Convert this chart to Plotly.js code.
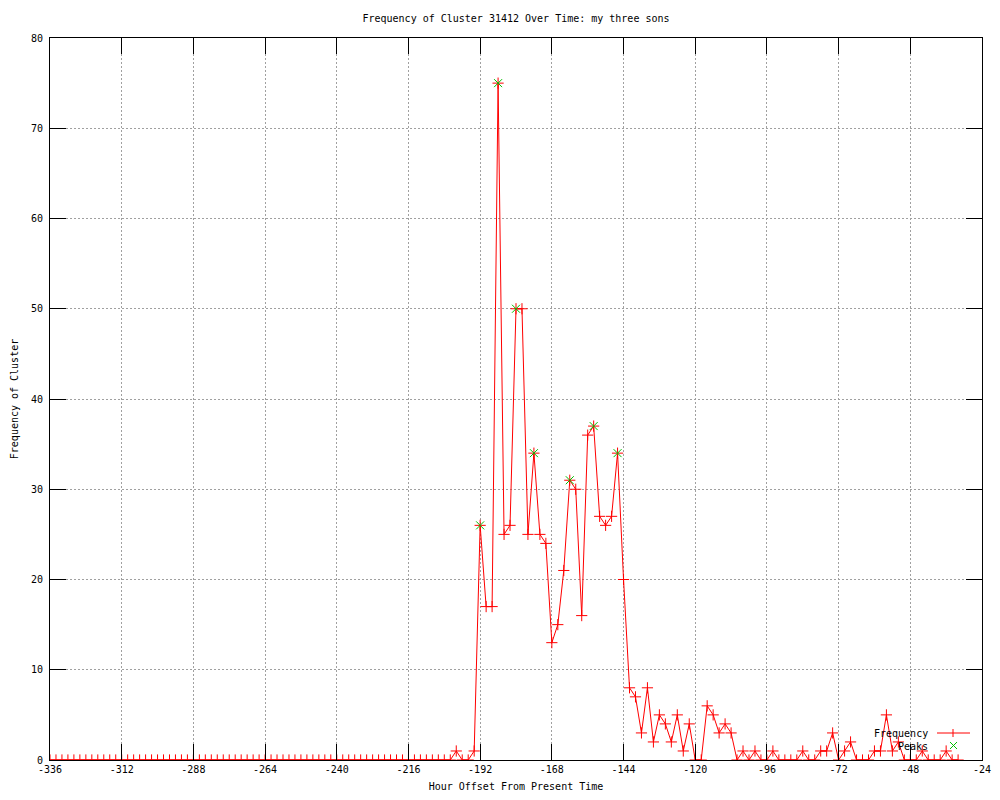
<!DOCTYPE html>
<html>
<head>
<meta charset="utf-8">
<script src="https://cdn.plot.ly/plotly-3.0.1.min.js"></script>
<style>
  html, body { margin: 0; padding: 0; background: #ffffff; }
  #chart { width: 1000px; height: 800px; }
</style>
</head>
<body>
<div id="chart"></div>
<script>
// Hour offsets (x) of each sample
const hours = [
  -336,-334,-332,-330,-328,-326,-324,-322,-320,-318,
  -316,-314,-312,-310,-308,-306,-304,-302,-300,-298,
  -296,-294,-292,-290,-288,-286,-284,-282,-280,-278,
  -276,-274,-272,-270,-268,-266,-264,-262,-260,-258,
  -256,-254,-252,-250,-248,-246,-244,-242,-240,-238,
  -236,-234,-232,-230,-228,-226,-224,-222,-220,-218,
  -216,-214,-212,-210,-208,-206,-204,-202,-200,-198,
  -196,-194,-192,-190,-188,-186,-184,-182,-180,-178,
  -176,-174,-172,-170,-168,-166,-164,-162,-160,-158,
  -156,-154,-152,-150,-148,-146,-144,-142,-140,-138,
  -136,-134,-132,-130,-128,-126,-124,-122,-120,-118,
  -116,-114,-112,-110,-108,-106,-104,-102,-100,-98,
  -96,-94,-92,-90,-88,-86,-84,-82,-80,-78,
  -76,-74,-72,-70,-68,-66,-64,-62,-60,-58,
  -56,-54,-52,-50,-48,-46,-44,-42,-40,-38,
  -36,-34,-32
];
// Frequency of the cluster at each hour
const frequency = [
  0,0,0,0,0,0,0,0,0,0,
  0,0,0,0,0,0,0,0,0,0,
  0,0,0,0,0,0,0,0,0,0,
  0,0,0,0,0,0,0,0,0,0,
  0,0,0,0,0,0,0,0,0,0,
  0,0,0,0,0,0,0,0,0,0,
  0,0,0,0,0,0,0,0,1,0,
  0,1,26,17,17,75,25,26,50,50,
  25,34,25,24,13,15,21,31,30,16,
  36,37,27,26,27,34,20,8,7,3,
  8,2,5,4,2,5,1,4,0,0,
  6,5,3,4,3,0,1,0,1,0,
  0,1,0,0,0,0,1,0,0,1,
  1,3,0,1,2,0,0,0,1,1,
  5,1,2,0,0,0,1,0,0,0,
  1,0,0
];
// Detected peaks
const peakHours  = [-192, -186, -180, -174, -162, -154, -146];
const peakValues = [26, 75, 50, 34, 31, 37, 34];

const xTicks = [-336,-312,-288,-264,-240,-216,-192,-168,-144,-120,-96,-72,-48,-24];
const yTicks = [0,10,20,30,40,50,60,70,80];

const FONT = "'DejaVu Sans Mono', 'Liberation Mono', monospace";
const RED = '#ff0000';
const GREEN = '#00c000';

const traces = [
  {
    x: hours, y: frequency, name: 'Frequency',
    type: 'scatter', mode: 'lines+markers',
    line: {color: RED, width: 1},
    marker: {symbol: 'cross-thin-open', size: 8, color: RED, line: {color: RED, width: 1}},
    showlegend: false
  },
  {
    x: peakHours, y: peakValues, name: 'Peaks',
    type: 'scatter', mode: 'markers',
    marker: {symbol: 'x-thin-open', size: 8, color: GREEN, line: {color: GREEN, width: 1}},
    showlegend: false
  }
];

// plot area pixels for legend placement
const L = 50, R = 982, T = 38, B = 760;
const px = v => (v - L) / (R - L);
const py = v => (B - v) / (B - T);

const legendShapes = [
  {type: 'line', xref: 'paper', yref: 'paper', x0: px(937), x1: px(970), y0: py(733), y1: py(733), line: {color: RED, width: 1}},
  {type: 'line', xref: 'paper', yref: 'paper', x0: px(953), x1: px(953), y0: py(729), y1: py(737), line: {color: RED, width: 1}},
  {type: 'line', xref: 'paper', yref: 'paper', x0: px(950), x1: px(957), y0: py(742), y1: py(749), line: {color: GREEN, width: 1}},
  {type: 'line', xref: 'paper', yref: 'paper', x0: px(950), x1: px(957), y0: py(749), y1: py(742), line: {color: GREEN, width: 1}}
];

const layout = {
  width: 1000, height: 800,
  paper_bgcolor: '#ffffff', plot_bgcolor: '#ffffff',
  margin: {l: L, r: 1000 - R, t: T, b: 800 - B, pad: 0},
  font: {family: FONT, size: 10, color: '#000000'},
  title: {text: 'Frequency of Cluster 31412 Over Time: my three sons',
          font: {family: FONT, size: 10, color: '#000000'},
          x: 0.5, xref: 'paper', xanchor: 'center', y: 1 - 18/800, yanchor: 'middle'},
  showlegend: false,
  xaxis: {
    range: [-336, -24], tickvals: xTicks, ticktext: xTicks.map(String),
    showgrid: true, gridcolor: '#a0a0a0', gridwidth: 1, griddash: '2px,2px',
    zeroline: false, showline: true, linecolor: '#000000', linewidth: 1, mirror: 'ticks',
    ticks: 'inside', ticklen: 16, tickcolor: '#000000', tickwidth: 1,
    tickfont: {family: FONT, size: 10, color: '#000000'},
    title: {text: 'Hour Offset From Present Time', font: {family: FONT, size: 10, color: '#000000'}, standoff: 8},
    automargin: false
  },
  yaxis: {
    range: [0, 80], tickvals: yTicks, ticktext: yTicks.map(String),
    showgrid: true, gridcolor: '#a0a0a0', gridwidth: 1, griddash: '2px,2px',
    zeroline: false, showline: true, linecolor: '#000000', linewidth: 1, mirror: 'ticks',
    ticks: 'inside', ticklen: 16, tickcolor: '#000000', tickwidth: 1,
    tickfont: {family: FONT, size: 10, color: '#000000'},
    ticklabelstandoff: 4,
    title: {text: 'Frequency of Cluster', font: {family: FONT, size: 10, color: '#000000'}, standoff: 10},
    automargin: false
  },
  shapes: legendShapes,
  annotations: [
    {xref: 'paper', yref: 'paper', x: px(930), y: py(733), xanchor: 'right', yanchor: 'middle',
     text: 'Frequency', showarrow: false, font: {family: FONT, size: 10, color: '#000000'}},
    {xref: 'paper', yref: 'paper', x: px(930), y: py(746), xanchor: 'right', yanchor: 'middle',
     text: 'Peaks', showarrow: false, font: {family: FONT, size: 10, color: '#000000'}}
  ]
};

Plotly.newPlot('chart', traces, layout, {displayModeBar: false, staticPlot: true});
</script>
</body>
</html>
